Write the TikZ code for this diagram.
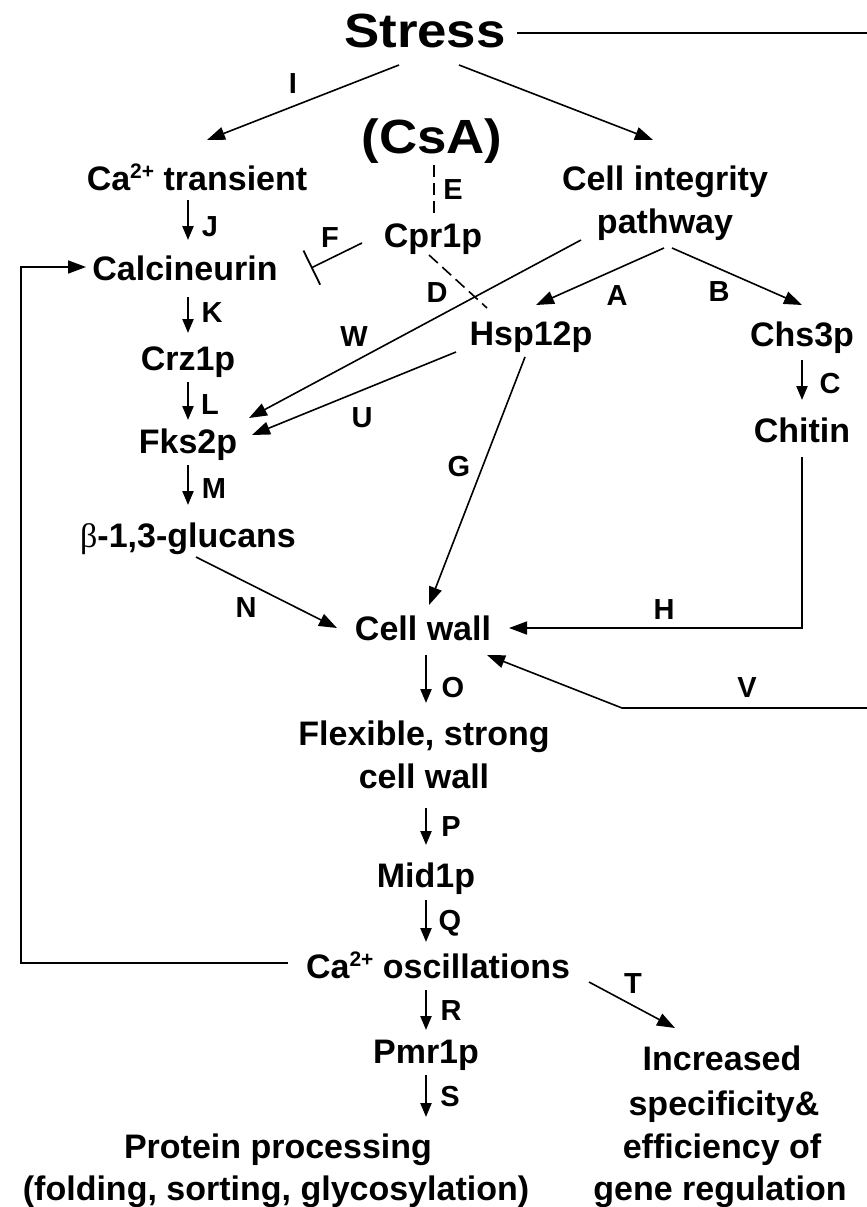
\documentclass[tikz,border=0pt]{standalone}
\usepackage{fontspec}
\setmainfont{Liberation Sans}
\newfontfamily\bigf{Liberation Sans}[FakeStretch=1.1]
\newfontfamily\symf{Liberation Serif}
\usetikzlibrary{arrows.meta}
\newcommand{\supr}[1]{\raisebox{12pt}{\fontsize{21}{21}\selectfont #1}}
\begin{document}
\begin{tikzpicture}[x=1pt,y=-1pt,
  txt/.style={anchor=base,inner sep=0pt,font=\bfseries\fontsize{34}{40}\selectfont},
  bigtxt/.style={anchor=base,inner sep=0pt,font=\bigf\bfseries\fontsize{48}{52}\selectfont},
  lbl/.style={anchor=center,inner sep=0pt,font=\bfseries\fontsize{29}{32}\selectfont},
  arr/.style={line width=1.6pt,-{Triangle[length=18pt,width=13pt]}},
  varr/.style={line width=2.3pt,-{Triangle[length=14pt,width=11pt]}},
  dsh/.style={line width=1.6pt,dash pattern=on 12pt off 6pt},
  inh/.style={line width=1.6pt,-{Bar[width=38pt,line width=1.8pt]}}
]
\fill[white] (0,0) rectangle (867,1207);
\useasboundingbox (0,0) rectangle (867,1207);

% nodes
\node[bigtxt] (stress) at (425,48) {Stress};
\node[bigtxt] (csa) at (432,153) {(CsA)};
\node[txt] (catr) at (197,190) {Ca\supr{2+} transient};
\node[txt] (cip1) at (665,190) {Cell integrity};
\node[txt] (cip2) at (665,233) {pathway};
\node[txt] (cpr) at (433,247) {Cpr1p};
\node[txt] (calc) at (185,280) {Calcineurin};
\node[txt] (crz) at (188,370) {Crz1p};
\node[txt] (hsp) at (531,345) {Hsp12p};
\node[txt] (chs) at (802,346) {Chs3p};
\node[txt] (chitin) at (802,442) {Chitin};
\node[txt] (fks) at (188,453) {Fks2p};
\node[txt] (glu) at (188,547) {{\symf\mdseries β}-1,3-glucans};
\node[txt] (cw) at (423,640) {Cell wall};
\node[txt] (flex1) at (424,745) {Flexible, strong};
\node[txt] (flex2) at (424,788) {cell wall};
\node[txt] (mid) at (426,887) {Mid1p};
\node[txt] (osc) at (438,978) {Ca\supr{2+} oscillations};
\node[txt] (pmr) at (426,1063) {Pmr1p};
\node[txt] (prot1) at (278,1158) {Protein processing};
\node[txt] (prot2) at (276,1200) {(folding, sorting, glycosylation)};
\node[txt] (inc1) at (722,1070) {Increased};
\node[txt] (inc2) at (724,1115) {specificity\&};
\node[txt] (inc3) at (722,1158) {efficiency of};
\node[txt] (inc4) at (720,1200) {gene regulation};

% connectors
\draw[arr] ([shift={(-26,17)}]stress.base) -- ([shift={(10,-50)}]catr.base);
\draw[arr] ([shift={(34,17)}]stress.base) -- ([shift={(-12,-50)}]cip1.base);
\draw[arr] ([shift={(92,-15)}]stress.base) -- (870,33) -- (870,708) -- (622,708) -- ([shift={(64,15)}]cw.base);
\draw[dsh] ([shift={(2,12)}]csa.base) -- ([shift={(1,-34)}]cpr.base);
\draw[varr] ([shift={(-9,10)}]catr.base) -- ([shift={(3,-40)}]calc.base);
\draw[inh] ([shift={(-71,-4)}]cpr.base) -- ([shift={(126,-12)}]calc.base);
\draw[dsh] ([shift={(-4,8)}]cpr.base) -- ([shift={(-44,-37)}]hsp.base);
\draw[arr] ([shift={(-84,7)}]cip2.base) -- ([shift={(61,-35)}]fks.base);
\draw[arr] ([shift={(-1,15)}]cip2.base) -- ([shift={(5,-40)}]hsp.base);
\draw[arr] ([shift={(7,15)}]cip2.base) -- ([shift={(0,-41)}]chs.base);
\draw[varr] ([shift={(3,17)}]calc.base) -- ([shift={(0,-37)}]crz.base);
\draw[varr] ([shift={(0,12)}]crz.base) -- ([shift={(0,-33)}]fks.base);
\draw[arr] ([shift={(-75,7)}]hsp.base) -- ([shift={(64,-18)}]fks.base);
\draw[varr] ([shift={(0,12)}]fks.base) -- ([shift={(0,-42)}]glu.base);
\draw[varr] ([shift={(0,14)}]chs.base) -- ([shift={(0,-42)}]chitin.base);
\draw[arr] ([shift={(-6,12)}]hsp.base) -- ([shift={(6,-35)}]cw.base);
\draw[arr] ([shift={(8,10)}]glu.base) -- ([shift={(-86,-12)}]cw.base);
\draw[arr] ([shift={(0,15)}]chitin.base) |- ([shift={(86,-12)}]cw.base);
\draw[varr] ([shift={(3,15)}]cw.base) -- ([shift={(2,-42)}]flex1.base);
\draw[varr] ([shift={(2,20)}]flex2.base) -- ([shift={(0,-42)}]mid.base);
\draw[varr] ([shift={(0,13)}]mid.base) -- ([shift={(-12,-36)}]osc.base);
\draw[varr] ([shift={(-12,12)}]osc.base) -- ([shift={(0,-33)}]pmr.base);
\draw[arr] ([shift={(151,4)}]osc.base) -- ([shift={(-47,-42)}]inc1.base);
\draw[varr] ([shift={(0,12)}]pmr.base) -- ([shift={(148,-41)}]prot1.base);
\draw[arr] ([shift={(-150,-15)}]osc.base) -- ++(-267,0) |- ([shift={(-99,-13)}]calc.base);

% labels
\node[lbl] (lI) at (293,84) {I};
\node[lbl] (lE) at (453,190) {E};
\node[lbl] (lJ) at (210,227) {J};
\node[lbl] (lF) at (330,238) {F};
\node[lbl] (lD) at (437,293) {D};
\node[lbl] (lA) at (617,296) {A};
\node[lbl] (lB) at (719,292) {B};
\node[lbl] (lK) at (212,313) {K};
\node[lbl] (lW) at (354,337) {W};
\node[lbl] (lL) at (210,405) {L};
\node[lbl] (lU) at (362,418) {U};
\node[lbl] (lC) at (830,384) {C};
\node[lbl] (lG) at (459,467) {G};
\node[lbl] (lM) at (214,489) {M};
\node[lbl] (lN) at (246,608) {N};
\node[lbl] (lH) at (664,610) {H};
\node[lbl] (lO) at (453,688) {O};
\node[lbl] (lV) at (747,688) {V};
\node[lbl] (lP) at (451,827) {P};
\node[lbl] (lQ) at (450,923) {Q};
\node[lbl] (lT) at (633,984) {T};
\node[lbl] (lR) at (451,1011) {R};
\node[lbl] (lS) at (450,1097) {S};
\end{tikzpicture}
\end{document}
